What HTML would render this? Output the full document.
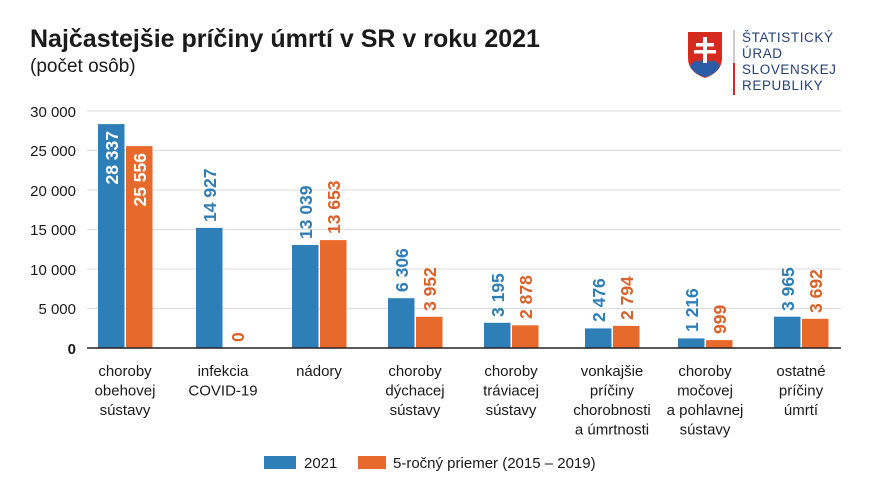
<!DOCTYPE html>
<html><head><meta charset="utf-8"><style>
body{margin:0;background:#fff;width:869px;height:499px;overflow:hidden}
svg{display:block;font-family:"Liberation Sans",Arial,sans-serif}
</style></head><body>
<svg width="869" height="499" viewBox="0 0 869 499">
<text x="30" y="47" font-size="25" font-weight="bold" fill="#1a1a1a">Najčastejšie príčiny úmrtí v SR v roku 2021</text>
<text x="30" y="72" font-size="19" fill="#1a1a1a">(počet osôb)</text>
<path d="M688 32 H722 V58 Q722 72 705 78 Q688 72 688 58 Z" fill="#d52b1e"/>
<path d="M690 66 Q696 58 700 62 Q705 56 710 62 Q714 58 720 66 Q716 74 705 77 Q694 74 690 66 Z" fill="#2b5ca8"/>
<rect x="703" y="37" width="4" height="26" fill="#fff"/>
<rect x="696" y="43" width="18" height="3.5" fill="#fff"/>
<rect x="694" y="50" width="22" height="3.5" fill="#fff"/>
<rect x="733" y="30" width="2" height="33" fill="#ccc"/>
<rect x="733" y="63" width="2" height="32" fill="#d52b1e"/>
<g font-size="13.5" fill="#25417a" letter-spacing="0.6">
<text x="742" y="42">ŠTATISTICKÝ</text>
<text x="742" y="58">ÚRAD</text>
<text x="742" y="74">SLOVENSKEJ</text>
<text x="742" y="90">REPUBLIKY</text>
</g>
<g stroke="#dcdcdc" stroke-width="1">
<line x1="87" y1="111" x2="841" y2="111"/><line x1="87" y1="150.5" x2="841" y2="150.5"/>
<line x1="87" y1="190" x2="841" y2="190"/><line x1="87" y1="229.5" x2="841" y2="229.5"/>
<line x1="87" y1="269" x2="841" y2="269"/><line x1="87" y1="308.5" x2="841" y2="308.5"/>
</g>
<g font-size="15" fill="#1a1a1a" text-anchor="end">
<text x="76" y="117">30 000</text><text x="76" y="156">25 000</text><text x="76" y="196">20 000</text>
<text x="76" y="235">15 000</text><text x="76" y="275">10 000</text><text x="76" y="314">5 000</text>
<text x="76" y="354" font-weight="bold">0</text>
</g>
<g fill="#2e7fb8">
<rect x="98" y="124.1" width="26.5" height="223.9"/>
<rect x="196" y="227.9" width="26.5" height="120.1"/>
<rect x="292" y="245" width="26.5" height="103"/>
<rect x="388" y="298.2" width="26.5" height="49.8"/>
<rect x="484" y="322.8" width="26.5" height="25.2"/>
<rect x="585" y="328.4" width="26.5" height="19.6"/>
<rect x="678" y="338.4" width="26.5" height="9.6"/>
<rect x="774" y="316.7" width="26.5" height="31.3"/>
</g>
<g fill="#e8692c">
<rect x="126" y="146.1" width="26.5" height="201.9"/>
<rect x="320" y="240.1" width="26.5" height="107.9"/>
<rect x="416" y="316.8" width="26.5" height="31.2"/>
<rect x="512" y="325.3" width="26.5" height="22.7"/>
<rect x="613" y="325.9" width="26.5" height="22.1"/>
<rect x="706" y="340.1" width="26.5" height="7.9"/>
<rect x="802" y="318.8" width="26.5" height="29.2"/>
</g>
<line x1="87" y1="348" x2="841" y2="348" stroke="#222" stroke-width="1.5"/>
<g font-size="17.5" font-weight="bold">
<text transform="translate(118,131) rotate(-90)" text-anchor="end" fill="#fff">28 337</text>
<text transform="translate(146,153) rotate(-90)" text-anchor="end" fill="#fff">25 556</text>
<g fill="#2e7fb8">
<text transform="translate(216,222) rotate(-90)">14 927</text>
<text transform="translate(312,239) rotate(-90)">13 039</text>
<text transform="translate(408,292) rotate(-90)">6 306</text>
<text transform="translate(504,317) rotate(-90)">3 195</text>
<text transform="translate(605,322) rotate(-90)">2 476</text>
<text transform="translate(698,332) rotate(-90)">1 216</text>
<text transform="translate(794,311) rotate(-90)">3 965</text>
</g>
<g fill="#d9622a">
<text transform="translate(244,342) rotate(-90)">0</text>
<text transform="translate(340,234) rotate(-90)">13 653</text>
<text transform="translate(436,311) rotate(-90)">3 952</text>
<text transform="translate(532,319) rotate(-90)">2 878</text>
<text transform="translate(633,320) rotate(-90)">2 794</text>
<text transform="translate(726,334) rotate(-90)">999</text>
<text transform="translate(822,313) rotate(-90)">3 692</text>
</g>
</g>
<g font-size="15" fill="#1a1a1a" text-anchor="middle">
<text x="125" y="376">choroby</text><text x="125" y="395.5">obehovej</text><text x="125" y="415">sústavy</text>
<text x="223" y="376">infekcia</text><text x="223" y="395.5">COVID-19</text>
<text x="319" y="376">nádory</text>
<text x="415" y="376">choroby</text><text x="415" y="395.5">dýchacej</text><text x="415" y="415">sústavy</text>
<text x="511" y="376">choroby</text><text x="511" y="395.5">tráviacej</text><text x="511" y="415">sústavy</text>
<text x="612" y="376">vonkajšie</text><text x="612" y="395.5">príčiny</text><text x="612" y="415">chorobnosti</text><text x="612" y="434.5">a úmrtnosti</text>
<text x="705" y="376">choroby</text><text x="705" y="395.5">močovej</text><text x="705" y="415">a pohlavnej</text><text x="705" y="434.5">sústavy</text>
<text x="801" y="376">ostatné</text><text x="801" y="395.5">príčiny</text><text x="801" y="415">úmrtí</text>
</g>
<rect x="264" y="456" width="32" height="13" fill="#2e7fb8"/>
<text x="304" y="468" font-size="15" fill="#1a1a1a">2021</text>
<rect x="358" y="456" width="28" height="13" fill="#e8692c"/>
<text x="393" y="468" font-size="15" fill="#1a1a1a">5-ročný priemer (2015 – 2019)</text>
</svg>
</body></html>
